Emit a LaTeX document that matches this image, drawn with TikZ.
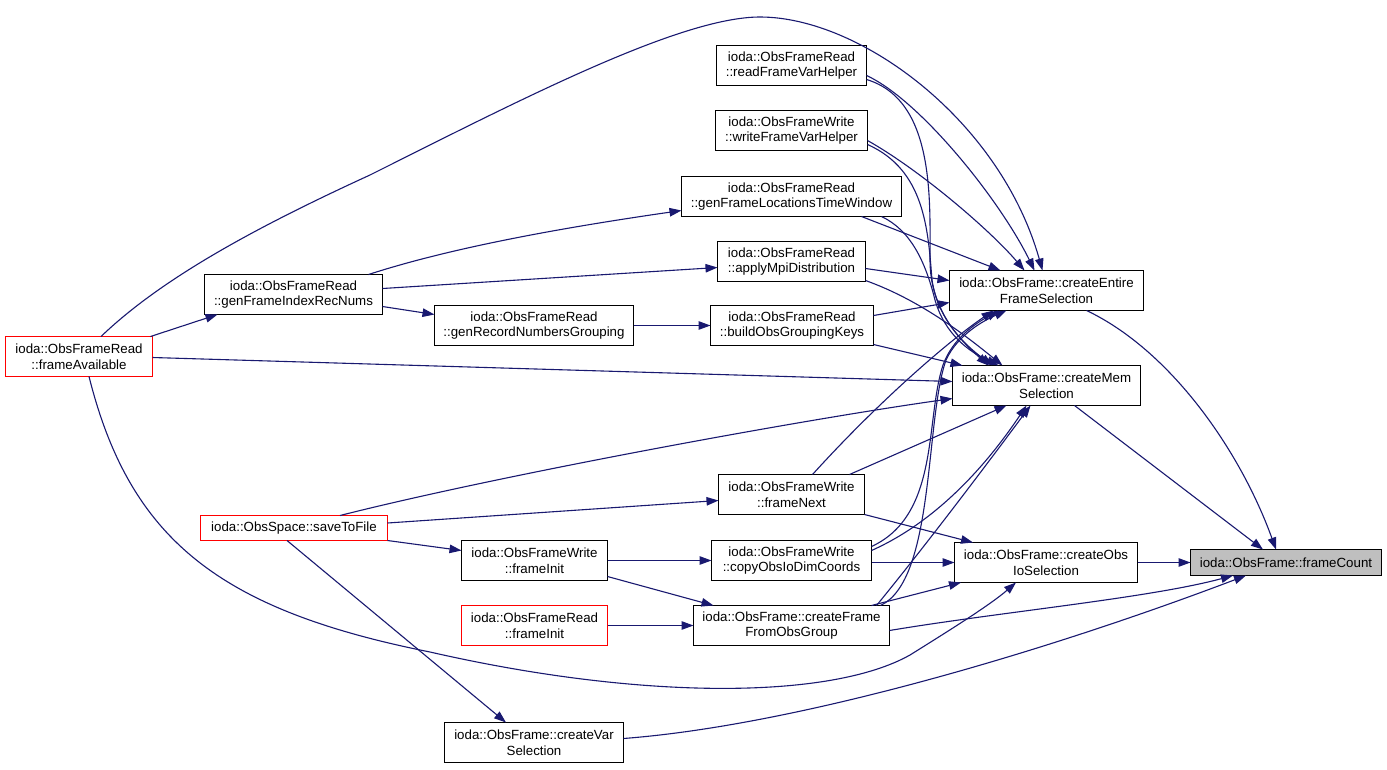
\documentclass[tikz,border=0pt]{standalone}
\usepackage{fontspec}
\setmainfont{Liberation Sans}
\usetikzlibrary{arrows.meta}
\definecolor{edgecol}{HTML}{191970}
\definecolor{fcfill}{HTML}{BFBFBF}
\definecolor{nodered}{HTML}{FF0000}
\begin{document}
\begin{tikzpicture}[x=1pt,y=-1pt,
  box/.style={draw=black, line width=1pt, rectangle, inner sep=0pt, outer sep=0pt,
    align=center, font=\fontsize{13.3}{15.5}\selectfont, fill=white, minimum height=40pt},
  redbox/.style={box, draw=nodered},
  edge/.style={draw=edgecol, line width=1.1pt, -{Triangle[length=12pt,width=8.5pt]}},
]
\useasboundingbox (0,0) rectangle (1387,769);
\fill[white] (0,0) rectangle (1387,769);

% nodes
\node[box, fill=fcfill, minimum width=191pt, minimum height=26pt] (fc) at (1286,562.5) {ioda::ObsFrame::frameCount};
\node[box, minimum width=194pt] (cefs) at (1046.5,290.5) {ioda::ObsFrame::createEntire\\FrameSelection};
\node[box, minimum width=188pt] (cms) at (1046.5,385.5) {ioda::ObsFrame::createMem\\Selection};
\node[box, minimum width=183pt] (cois) at (1046,562.5) {ioda::ObsFrame::createObs\\IoSelection};
\node[box, minimum width=196pt] (cffog) at (791.5,625.5) {ioda::ObsFrame::createFrame\\FromObsGroup};
\node[box, minimum width=179pt] (cvs) at (534,742.5) {ioda::ObsFrame::createVar\\Selection};
\node[box, minimum width=150pt] (rfvh) at (791.5,65.5) {ioda::ObsFrameRead\\::readFrameVarHelper};
\node[box, minimum width=152pt] (wfvh) at (791.5,130.5) {ioda::ObsFrameWrite\\::writeFrameVarHelper};
\node[box, minimum width=220pt] (gfltw) at (791.5,196.5) {ioda::ObsFrameRead\\::genFrameLocationsTimeWindow};
\node[box, minimum width=148pt] (ampi) at (791.5,261.5) {ioda::ObsFrameRead\\::applyMpiDistribution};
\node[box, minimum width=163pt] (bogk) at (792,325.5) {ioda::ObsFrameRead\\::buildObsGroupingKeys};
\node[box, minimum width=146pt] (fnext) at (791.5,494.5) {ioda::ObsFrameWrite\\::frameNext};
\node[box, minimum width=160pt] (cobs) at (791.5,560.5) {ioda::ObsFrameWrite\\::copyObsIoDimCoords};
\node[box, minimum width=178pt] (gfirn) at (293.5,294.5) {ioda::ObsFrameRead\\::genFrameIndexRecNums};
\node[box, minimum width=199pt] (grng) at (534,325.5) {ioda::ObsFrameRead\\::genRecordNumbersGrouping};
\node[redbox, minimum width=147pt] (favail) at (79,356.5) {ioda::ObsFrameRead\\::frameAvailable};
\node[redbox, minimum width=187pt, minimum height=25pt] (save) at (294,528) {ioda::ObsSpace::saveToFile};
\node[box, minimum width=146pt] (finitw) at (534.5,560.5) {ioda::ObsFrameWrite\\::frameInit};
\node[redbox, minimum width=146pt] (finitr) at (534.5,625.5) {ioda::ObsFrameRead\\::frameInit};

% edges into frameCount
\path[edge] ([xshift=40pt]cefs.south) .. controls (1170,350) and (1240,450) .. ([xshift=-10pt]fc.north);
\path[edge] ([xshift=28pt]cms.south) -- ([xshift=-23pt]fc.north);
\path[edge] (cois.east) -- (fc.west);
\path[edge] ([yshift=-5pt]cffog.east) .. controls (1000,612) and (1150,598) .. ([xshift=-53pt]fc.south);
\path[edge] ([yshift=4pt]cvs.east) .. controls (800,725) and (1050,650) .. ([xshift=-40pt]fc.south);

% edges into createObsIoSelection
\path[edge] ([xshift=10pt]favail.south) .. controls (130,540) and (220,610) .. (430,652)
   .. controls (640,700) and (830,700) .. (910,655) .. controls (950,630) and (990,605) .. ([xshift=-30pt]cois.south);
\path[edge] (fnext.south east) -- ([xshift=-73pt]cois.north);
\path[edge] ([yshift=-2pt]cobs.east) -- (cois.west);
\path[edge] ([xshift=80pt]cffog.north) -- ([xshift=-85pt]cois.south);

% edges into createEntireFrameSelection
\path[edge] ([xshift=22pt]favail.north) .. controls (160,280) and (250,230) .. (370,175)
   .. controls (520,100) and (680,17) .. (760,17) .. controls (860,17) and (1000,120) .. ([xshift=-4pt]cefs.north);
\path[edge] ([yshift=-10pt]rfvh.east) .. controls (920,100) and (1000,200) .. ([xshift=-12pt]cefs.north);
\path[edge] ([yshift=-10pt]wfvh.east) .. controls (920,170) and (990,230) .. ([xshift=-22pt]cefs.north);
\path[edge] ([xshift=70pt]gfltw.south) -- ([xshift=-46pt]cefs.north);
\path[edge] ([yshift=-7pt]ampi.east) -- ([yshift=10pt]cefs.west);
\path[edge] ([yshift=10pt]bogk.east) -- ([yshift=-12pt]cefs.west);
\path[edge] ([xshift=21pt]fnext.north) .. controls (880,400) and (950,340) .. ([xshift=-53pt]cefs.south);
\path[edge] ([yshift=14pt]cobs.east) .. controls (940,515) and (925,420) .. (943,365)
   .. controls (953,338) and (975,324) .. ([xshift=-48pt]cefs.south);
\path[edge] ([xshift=89pt]cffog.north) .. controls (935,580) and (925,420) .. (946,360)
   .. controls (958,334) and (985,320) .. ([xshift=-40pt]cefs.south);

% edges into createMemSelection
\path[edge] ([yshift=-14pt]rfvh.east) .. controls (935,100) and (930,200) .. (930,260)
   .. controls (930,310) and (960,340) .. ([xshift=-58pt]cms.north);
\path[edge] ([yshift=-14pt]wfvh.east) .. controls (925,170) and (928,230) .. (932,280)
   .. controls (938,320) and (965,345) .. ([xshift=-54pt]cms.north);
\path[edge] ([xshift=90pt]gfltw.south) .. controls (910,230) and (925,260) .. (935,300)
   .. controls (945,335) and (970,352) .. ([xshift=-48pt]cms.north);
\path[edge] ([yshift=-19pt]ampi.east) .. controls (920,300) and (965,335) .. ([xshift=-44pt]cms.north);
\path[edge] ([yshift=-19pt]bogk.east) -- ([xshift=-84pt]cms.north);
\path[edge] ([yshift=-1pt]favail.east) -- ([yshift=4pt]cms.west);
\path[edge] ([xshift=46pt]save.north) .. controls (500,475) and (800,420) .. ([yshift=-13pt]cms.west);
\path[edge] ([xshift=58pt]fnext.north) -- ([xshift=-40pt]cms.south);
\path[edge] ([yshift=10pt]cobs.east) .. controls (940,520) and (990,460) .. ([xshift=-20pt]cms.south);
\path[edge] ([xshift=85pt]cffog.north) .. controls (930,540) and (990,460) .. ([xshift=-16pt]cms.south);

% left / middle edges
\path[edge] ([xshift=-2pt]favail.north east) -- ([xshift=-76pt]gfirn.south);
\path[edge] ([xshift=75pt]gfirn.north) .. controls (450,248) and (560,228) .. ([yshift=-14pt]gfltw.west);
\path[edge] ([yshift=6pt]gfirn.east) -- ([yshift=-6pt]ampi.west);
\path[edge] ([yshift=-12pt]gfirn.east) -- ([yshift=11pt]grng.west);
\path[edge] (grng.east) -- (bogk.west);
\path[edge] ([yshift=5pt]save.east) -- ([yshift=-6pt]fnext.west);
\path[edge] (save.south east) -- ([yshift=10pt]finitw.west);
\path[edge] ([xshift=-7pt]save.south) -- ([xshift=-28pt]cvs.north);
\path[edge] (finitw.east) -- (cobs.west);
\path[edge] ([yshift=-16pt]finitw.east) -- ([xshift=-78pt]cffog.north);
\path[edge] (finitr.east) -- (cffog.west);
\end{tikzpicture}
\end{document}
